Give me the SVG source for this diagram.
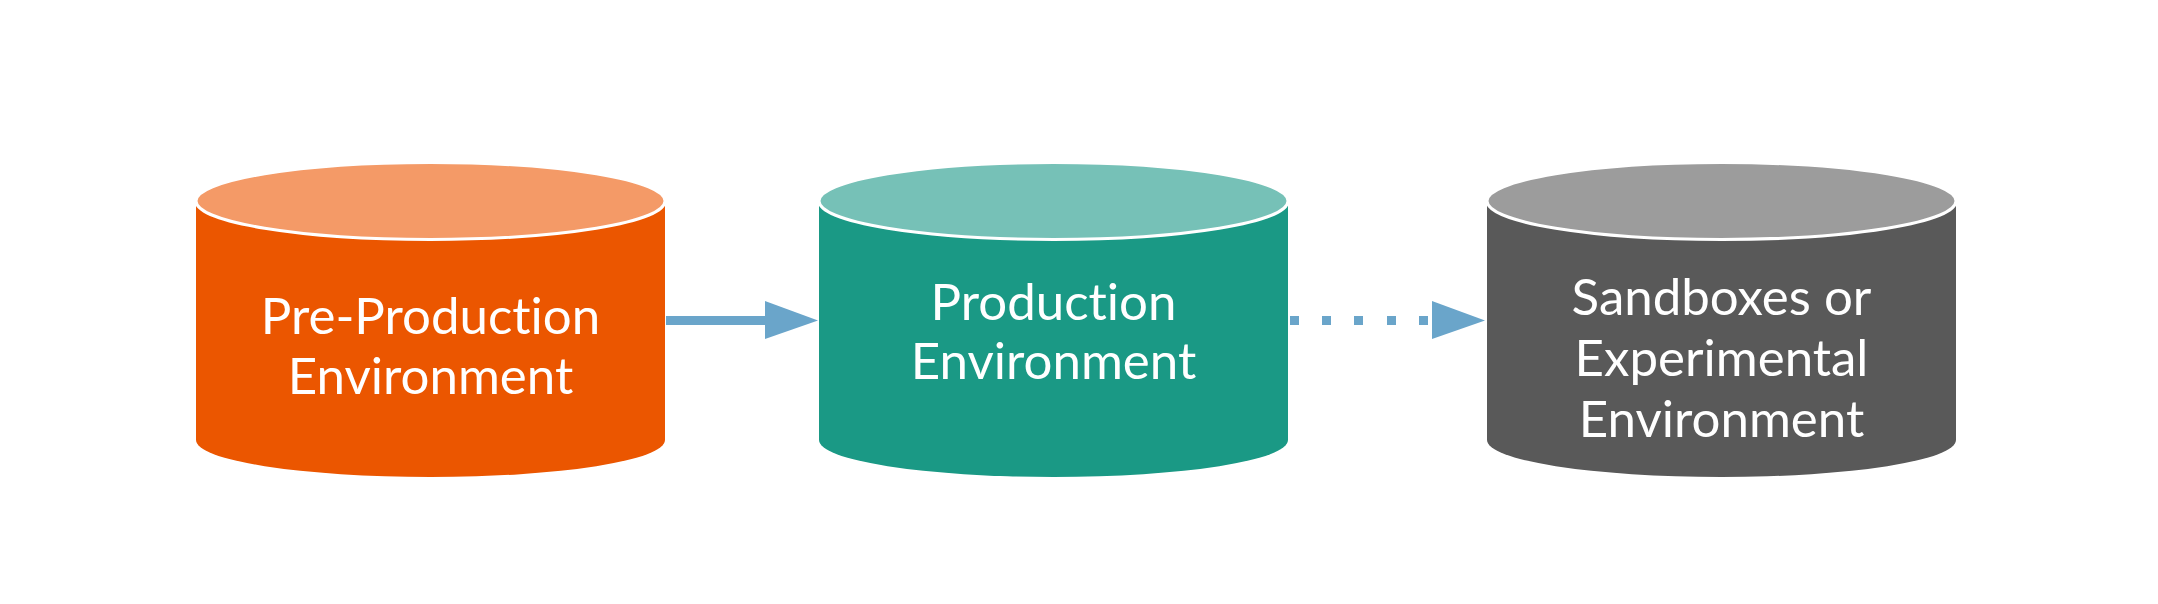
<svg xmlns="http://www.w3.org/2000/svg" width="2158" height="604" viewBox="0 0 2158 604">
<style>
.lbl{font-family:Lato,"Liberation Sans",sans-serif;font-size:51px;fill:#ffffff;text-anchor:middle;font-variant-ligatures:none;font-feature-settings:"liga" 0,"clig" 0}
.top{stroke:#ffffff;stroke-width:3}
.conn{fill:#6aa5ca}
</style>
<rect width="2158" height="604" fill="#ffffff"/>
<g id="connectors">
<rect class="conn" x="666" y="316" width="100" height="9"/>
<polygon class="conn" points="765,301 818,320.5 765,339"/>
<g class="conn">
<rect x="1290" y="316" width="9" height="9"/>
<rect x="1322" y="316" width="9" height="9"/>
<rect x="1354" y="316" width="9" height="9"/>
<rect x="1387" y="316" width="9" height="9"/>
<rect x="1419" y="316" width="9" height="9"/>
</g>
<polygon class="conn" points="1432,301 1485,320.5 1432,339"/>
</g>
<g id="pre-production">
<path d="M196,201 H665 V440 A234.5,37 0 0 1 196,440 Z" fill="#eb5600"/>
<ellipse class="top" cx="430.5" cy="201" rx="234.5" ry="38.5" fill="#f49a67"/>
<text class="lbl" x="430.5" y="334">Pre-Production</text>
<text class="lbl" x="430.5" y="394">Environment</text>
</g>
<g id="production">
<path d="M819,201 H1288 V440 A234.5,37 0 0 1 819,440 Z" fill="#1a9985"/>
<ellipse class="top" cx="1053.5" cy="201" rx="234.5" ry="38.5" fill="#76c1b7"/>
<text class="lbl" x="1053.5" y="320">Production</text>
<text class="lbl" x="1053.5" y="379">Environment</text>
</g>
<g id="sandboxes">
<path d="M1487,201 H1956 V440 A234.5,37 0 0 1 1487,440 Z" fill="#595959"/>
<ellipse class="top" cx="1721.5" cy="201" rx="234.5" ry="38.5" fill="#9c9c9c"/>
<text class="lbl" x="1721.5" y="315">Sandboxes or</text>
<text class="lbl" x="1721.5" y="376">Experimental</text>
<text class="lbl" x="1721.5" y="437">Environment</text>
</g>
</svg>
